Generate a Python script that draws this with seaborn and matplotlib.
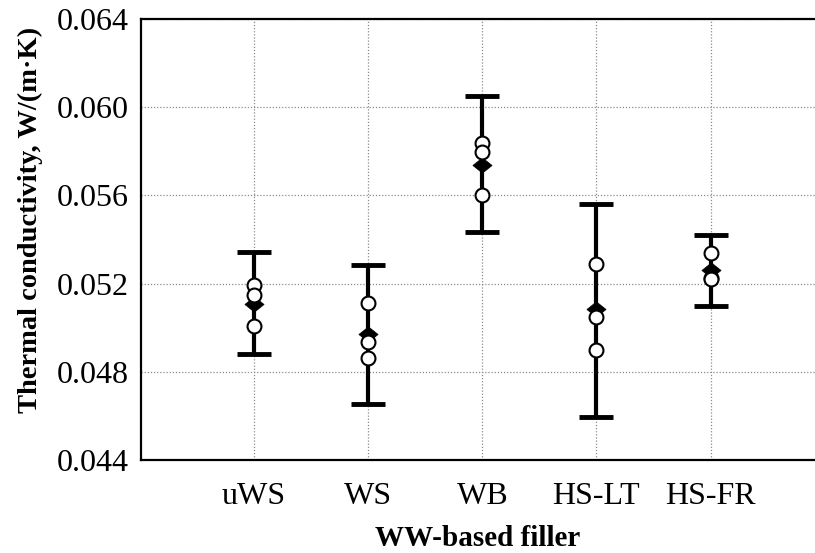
import numpy as np
import pandas as pd
import matplotlib
matplotlib.use("Agg")
import matplotlib.pyplot as plt
import seaborn as sns
from matplotlib.path import Path

# Fillers and measured thermal conductivity (three specimens each)
fillers = ["uWS", "WS", "WB", "HS-LT", "HS-FR"]
specimen_1 = [0.05194, 0.05111, 0.05839, 0.05289, 0.05337]
specimen_2 = [0.05148, 0.04937, 0.05798, 0.05047, 0.05224]
specimen_3 = [0.05009, 0.04861, 0.05602, 0.04899, 0.05220]

# Mean value and error-bar limits per filler
mean_value = [0.05108, 0.04972, 0.05740, 0.05083, 0.05263]
lower_limit = [0.04881, 0.04654, 0.05435, 0.04597, 0.05100]
upper_limit = [0.05345, 0.05284, 0.06051, 0.05560, 0.05420]

y_ticks = [0.044, 0.048, 0.052, 0.056, 0.060, 0.064]

sns.set_theme(style="white")
plt.rcParams["font.family"] = ["Liberation Serif", "DejaVu Serif"]
plt.rcParams["mathtext.fontset"] = "stix"

fig = plt.figure(figsize=(8.15, 5.53), dpi=100)
ax = fig.add_axes([141 / 815, 1 - 460 / 553, 674 / 815, 441 / 553])

points = pd.DataFrame({
    "filler": fillers * 3,
    "k": specimen_1 + specimen_2 + specimen_3,
})
means = pd.DataFrame({"filler": fillers, "k": mean_value})

# error bars about the mean
xpos = np.arange(len(fillers))
m = np.array(mean_value)
yerr = np.vstack([m - np.array(lower_limit), np.array(upper_limit) - m])
ax.errorbar(xpos, m, yerr=yerr, fmt="none", ecolor="black",
            elinewidth=3, capsize=12.5, capthick=3.5, zorder=3)

# wide diamond for the mean
diamond = Path([(-1.0, 0.0), (0.0, 0.8), (1.0, 0.0), (0.0, -0.8), (-1.0, 0.0)],
               [Path.MOVETO, Path.LINETO, Path.LINETO, Path.LINETO, Path.CLOSEPOLY])
sns.scatterplot(data=means, x="filler", y="k", marker=diamond, s=190,
                color="black", edgecolor="black", linewidth=0.5,
                ax=ax, zorder=4, legend=False)

# individual specimens as open circles
sns.stripplot(data=points, x="filler", y="k", order=fillers, jitter=False,
              marker="o", size=10, color="white", edgecolor="black",
              linewidth=1.5, ax=ax, zorder=5)

ax.set_xlim(-0.99, 4.915)
ax.set_ylim(0.044, 0.064)
ax.set_yticks(y_ticks)
ax.set_yticklabels([f"{v:.3f}" for v in y_ticks])
ax.set_xticks(xpos)
ax.set_xticklabels(fillers)

ax.grid(True, color="#8c8c8c", linestyle=(0, (1, 1.5)), linewidth=0.9)
ax.set_axisbelow(True)

for side in ["left", "top", "bottom"]:
    ax.spines[side].set_visible(True)
    ax.spines[side].set_color("black")
    ax.spines[side].set_linewidth(1.6)
ax.spines["right"].set_visible(False)

ax.tick_params(axis="y", length=0, pad=9, labelsize=23, colors="black")
ax.tick_params(axis="x", length=3, width=0.8, direction="out", pad=13,
               labelsize=23, colors="black")

ax.set_xlabel("WW-based filler", fontsize=21, fontweight="bold", labelpad=10,
              color="black")
ax.set_ylabel("Thermal conductivity, W/(m·K)", fontsize=20.5, fontweight="bold",
              color="black")
ax.yaxis.set_label_coords(-0.145, 0.545)

fig.savefig("out.png", dpi=100)
